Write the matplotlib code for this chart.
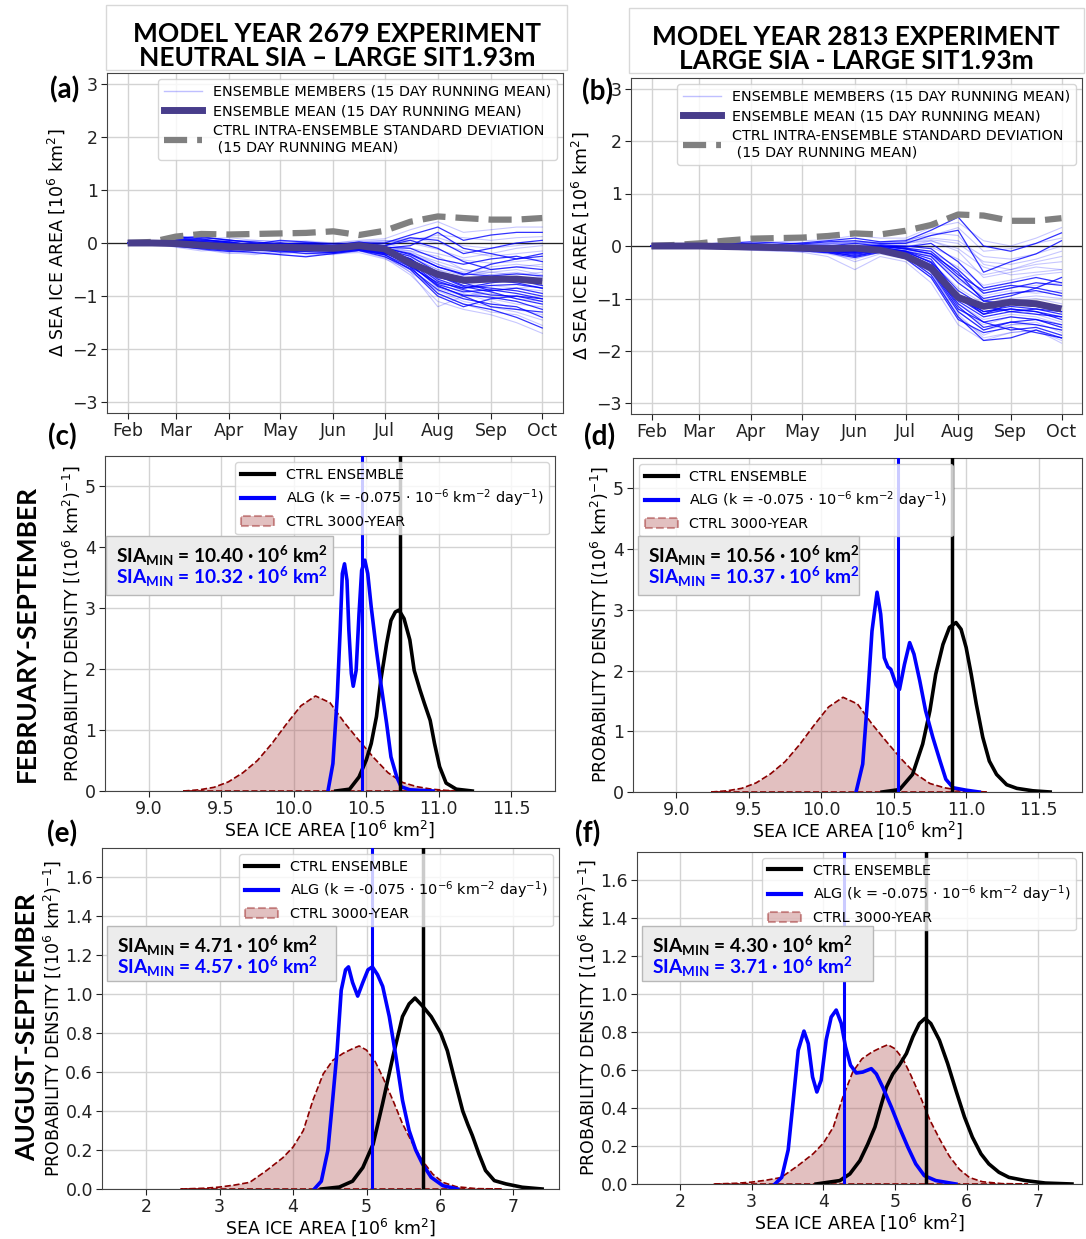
import matplotlib
matplotlib.use("Agg")
import matplotlib.pyplot as plt
from matplotlib.patches import Rectangle
from matplotlib.lines import Line2D

plt.rcParams['font.family'] = ['DejaVu Sans']
plt.rcParams['mathtext.default'] = 'regular'

# ---------------- DATA ----------------
month_labels = ['Feb', 'Mar', 'Apr', 'May', 'Jun', 'Jul', 'Aug', 'Sep', 'Oct']
month_days = [0, 28, 59, 89, 120, 150, 181, 212, 242]
days = [0, 14, 28, 43, 59, 74, 89, 104, 120, 135, 150, 165, 181, 196, 212, 227, 242]

mean_a = [0, 0, -0.01, -0.04, -0.07, -0.08, -0.08, -0.09, -0.1, -0.05, -0.11, -0.38, -0.59, -0.7, -0.68, -0.68, -0.72]
std_a = [0, 0.02, 0.12, 0.17, 0.16, 0.17, 0.18, 0.19, 0.22, 0.15, 0.23, 0.4, 0.5, 0.47, 0.44, 0.44, 0.47]
members_a = [
    [0, 0, 0.08, 0.05, 0.02, -0.05, 0.0, -0.08, -0.1, -0.05, -0.1, -0.2, -0.45, -0.6, -0.4, -0.3, -0.2],
    [0, 0, -0.05, -0.12, -0.2, -0.15, -0.22, -0.25, -0.18, -0.12, -0.25, -0.55, -0.9, -1.1, -1.2, -1.3, -1.45],
    [0, 0, 0.1, 0.12, 0.05, 0.02, -0.02, 0.0, -0.05, 0.02, -0.05, 0.1, 0.05, -0.2, -0.1, 0.0, 0.05],
    [0, 0, -0.02, -0.08, -0.1, -0.15, -0.12, -0.18, -0.2, -0.12, -0.2, -0.4, -0.85, -1.0, -0.95, -1.05, -1.1],
    [0, 0, 0.02, 0.0, -0.05, -0.1, -0.05, -0.02, -0.08, -0.02, -0.12, -0.3, -0.6, -0.8, -0.85, -0.9, -1.0],
    [0, 0, -0.08, -0.15, -0.12, -0.08, -0.18, -0.2, -0.22, -0.15, -0.28, -0.6, -1.1, -1.25, -1.35, -1.5, -1.7],
    [0, 0, 0.05, 0.02, 0.0, -0.02, -0.05, -0.1, -0.15, -0.1, -0.05, 0.05, -0.1, -0.35, -0.5, -0.45, -0.5],
    [0, 0, 0.0, -0.05, -0.08, -0.05, -0.1, -0.15, -0.12, -0.05, -0.15, -0.25, -0.5, -0.7, -0.6, -0.55, -0.65],
    [0, 0, 0.12, 0.08, 0.0, -0.02, 0.05, 0.02, -0.02, 0.0, 0.0, 0.15, 0.3, 0.05, 0.15, 0.2, 0.2],
    [0, 0, -0.03, -0.1, -0.15, -0.2, -0.2, -0.15, -0.12, -0.08, -0.2, -0.35, -0.7, -0.9, -1.05, -1.15, -1.2],
    [0, 0, 0.03, -0.02, -0.02, -0.08, -0.1, -0.05, -0.08, -0.1, -0.15, -0.45, -0.75, -0.85, -0.75, -0.7, -0.8],
    [0, 0, -0.06, -0.1, -0.05, 0.0, -0.08, -0.12, -0.2, -0.18, -0.3, -0.5, -0.95, -1.15, -1.3, -1.35, -1.55],
    [0, 0, 0.06, 0.02, -0.02, -0.05, -0.02, -0.05, -0.1, -0.05, -0.08, -0.1, -0.3, -0.4, -0.3, -0.25, -0.35],
    [0, 0, -0.04, -0.06, -0.12, -0.1, -0.15, -0.1, -0.05, 0.0, -0.1, -0.2, -0.4, -0.55, -0.45, -0.4, -0.45],
    [0, 0, 0.04, 0.06, 0.02, -0.05, -0.08, -0.05, -0.1, -0.12, -0.2, -0.3, -0.65, -0.75, -0.9, -0.85, -0.95],
    [0, 0, -0.02, -0.05, -0.1, -0.12, -0.05, -0.1, -0.15, -0.08, -0.1, -0.15, -0.25, -0.5, -0.55, -0.6, -0.55],
    [0, 0, 0.02, -0.04, -0.08, -0.12, -0.15, -0.2, -0.18, -0.12, -0.22, -0.5, -1.0, -1.2, -1.05, -1.0, -1.05],
    [0, 0, 0.0, 0.02, 0.05, 0.0, -0.04, -0.06, -0.05, 0.0, 0.02, 0.1, 0.0, -0.15, -0.25, -0.2, -0.15],
    [0, 0, 0.08, 0.1, 0.06, 0.0, -0.05, -0.02, -0.05, -0.02, -0.12, -0.25, -0.55, -0.65, -0.7, -0.75, -0.85],
    [0, 0, -0.05, -0.1, -0.08, -0.1, -0.12, -0.08, -0.12, -0.1, -0.18, -0.38, -0.75, -0.95, -1.1, -1.25, -1.35],
    [0, 0, 0.0, -0.03, -0.06, -0.02, 0.0, -0.04, -0.1, -0.06, -0.1, -0.05, 0.2, -0.1, -0.2, -0.3, -0.25],
    [0, 0, -0.07, -0.12, -0.18, -0.22, -0.15, -0.1, -0.08, -0.05, -0.12, -0.3, -0.6, -0.75, -0.8, -0.85, -0.9],
    [0, 0, 0.05, 0.0, -0.05, -0.08, -0.12, -0.1, -0.15, -0.1, -0.18, -0.42, -0.8, -1.0, -1.2, -1.25, -1.3],
    [0, 0, 0.02, 0.04, 0.0, -0.04, -0.02, -0.06, -0.08, -0.05, -0.08, -0.18, -0.35, -0.5, -0.6, -0.65, -0.7],
    [0, 0, -0.03, -0.09, -0.14, -0.18, -0.22, -0.26, -0.2, -0.14, -0.22, -0.45, -0.95, -1.15, -1.25, -1.4, -1.6],
    [0, 0, 0.04, 0.08, 0.1, 0.05, 0.02, 0.04, 0.0, 0.05, 0.08, 0.25, 0.4, 0.2, 0.25, 0.3, 0.3],
    [0, 0, 0.07, 0.03, -0.03, -0.06, -0.1, -0.14, -0.1, -0.04, -0.14, -0.36, -0.78, -0.92, -0.88, -0.95, -1.05],
    [0, 0, 0.01, -0.04, -0.07, -0.1, -0.08, -0.12, -0.14, -0.1, -0.16, -0.28, -0.5, -0.62, -0.5, -0.45, -0.4],
    [0, 0, -0.04, -0.07, -0.11, -0.13, -0.17, -0.15, -0.13, -0.09, -0.17, -0.32, -0.62, -0.82, -0.92, -1.05, -1.15],
    [0, 0, -0.01, 0.01, 0.03, 0.05, 0.03, 0.0, -0.03, 0.02, 0.04, 0.05, 0.15, 0.1, 0.05, 0.1, 0.12],
    [0, 0, 0.0, -0.02, -0.05, -0.07, -0.09, -0.07, -0.09, -0.05, -0.13, -0.3, -0.68, -0.85, -0.8, -0.78, -0.85],
    [0, 0, 0.03, -0.01, -0.04, -0.09, -0.06, -0.1, -0.16, -0.12, -0.24, -0.55, -1.2, -1.0, -0.9, -0.85, -0.8],
    [0, 0, -0.06, -0.11, -0.16, -0.14, -0.12, -0.16, -0.18, -0.14, -0.26, -0.48, -0.88, -1.05, -1.15, -1.2, -1.4],
    [0, 0, 0.05, 0.07, 0.04, 0.01, 0.0, -0.02, -0.04, 0.01, -0.02, -0.1, -0.2, -0.32, -0.38, -0.35, -0.3],
    [0, 0, -0.02, -0.06, -0.09, -0.11, -0.14, -0.11, -0.11, -0.07, -0.14, -0.34, -0.72, -0.88, -0.98, -1.0, -1.1],
    [0, 0, 0.09, 0.06, 0.02, -0.03, -0.06, -0.04, -0.07, -0.03, -0.06, -0.15, -0.4, -0.6, -0.55, -0.5, -0.6],
    [0, 0, 0.01, -0.03, -0.07, -0.08, -0.11, -0.13, -0.16, -0.11, -0.19, -0.4, -0.82, -0.98, -1.02, -1.1, -1.25],
    [0, 0, 0.02, 0.03, 0.01, -0.03, -0.01, 0.01, 0.0, 0.03, 0.05, 0.0, -0.12, -0.28, -0.2, -0.1, -0.05],
    [0, 0, 0.03, 0.0, -0.02, -0.04, -0.03, -0.07, -0.09, -0.04, -0.09, -0.22, -0.45, -0.58, -0.62, -0.58, -0.62],
    [0, 0, -0.01, 0.02, 0.04, 0.02, -0.01, -0.03, -0.06, -0.02, 0.0, 0.08, 0.1, -0.05, -0.1, -0.05, 0.0],
]

mean_b = [0, 0, 0, -0.01, -0.02, -0.03, -0.04, -0.05, -0.04, -0.08, -0.19, -0.42, -0.98, -1.15, -1.07, -1.1, -1.2]
std_b = [0, 0.02, 0.05, 0.1, 0.14, 0.15, 0.16, 0.19, 0.24, 0.22, 0.29, 0.4, 0.6, 0.58, 0.48, 0.48, 0.53]
members_b = [
    [0, 0, 0.02, 0.03, 0.05, 0.02, 0.0, -0.02, -0.05, 0.0, -0.05, -0.15, -0.6, -1.0, -0.9, -0.85, -0.95],
    [0, 0, -0.02, -0.04, -0.06, -0.08, -0.05, -0.1, -0.3, -0.15, -0.25, -0.6, -1.3, -1.75, -1.65, -1.6, -1.8],
    [0, 0, 0.01, 0.05, 0.08, 0.06, 0.04, 0.08, 0.1, 0.05, 0.05, 0.2, 0.3, -0.5, -0.3, -0.15, 0.1],
    [0, 0, -0.01, -0.02, -0.04, -0.06, -0.1, -0.12, -0.2, -0.1, -0.2, -0.5, -1.1, -1.4, -1.3, -1.35, -1.5],
    [0, 0, 0.0, 0.0, -0.02, -0.05, -0.08, -0.05, -0.1, -0.05, -0.1, -0.25, -0.95, -1.25, -1.15, -1.2, -1.3],
    [0, 0, -0.03, -0.06, -0.04, -0.08, -0.12, -0.2, -0.45, -0.2, -0.3, -0.7, -1.5, -1.8, -1.65, -1.6, -1.85],
    [0, 0, 0.02, 0.0, 0.0, -0.02, 0.02, 0.0, 0.05, 0.0, -0.02, 0.05, -0.3, -0.8, -0.7, -0.6, -0.7],
    [0, 0, 0.0, -0.03, -0.05, -0.04, -0.06, -0.08, -0.12, -0.06, -0.15, -0.35, -0.9, -1.2, -1.05, -1.0, -1.1],
    [0, 0, 0.03, 0.06, 0.04, 0.03, 0.06, 0.1, 0.15, 0.08, 0.1, 0.3, 0.55, 0.0, -0.1, 0.05, 0.25],
    [0, 0, -0.02, -0.05, -0.08, -0.1, -0.08, -0.06, -0.15, -0.1, -0.2, -0.45, -1.2, -1.5, -1.35, -1.4, -1.55],
    [0, 0, 0.01, -0.01, -0.03, -0.02, -0.04, -0.08, -0.06, -0.02, -0.1, -0.2, -0.7, -1.05, -1.1, -1.15, -1.15],
    [0, 0, -0.01, -0.03, -0.05, -0.07, -0.1, -0.15, -0.25, -0.12, -0.22, -0.55, -1.25, -1.6, -1.5, -1.45, -1.65],
    [0, 0, 0.02, 0.02, 0.0, 0.0, -0.02, -0.05, -0.02, 0.02, 0.0, -0.05, -0.45, -0.9, -0.8, -0.7, -0.75],
    [0, 0, 0.0, -0.02, -0.03, -0.05, -0.02, -0.04, -0.1, -0.05, -0.1, -0.3, -0.8, -1.1, -1.0, -0.95, -1.0],
    [0, 0, -0.02, -0.02, -0.06, -0.04, -0.08, -0.1, -0.12, -0.08, -0.18, -0.4, -1.0, -1.3, -1.2, -1.25, -1.4],
    [0, 0, 0.01, 0.03, 0.02, 0.0, 0.03, 0.02, 0.0, 0.05, 0.05, 0.1, -0.1, -0.6, -0.5, -0.4, -0.45],
    [0, 0, -0.02, -0.04, -0.02, -0.06, -0.06, -0.1, -0.2, -0.1, -0.15, -0.45, -1.1, -1.45, -1.6, -1.55, -1.7],
    [0, 0, 0.02, 0.04, 0.03, 0.01, 0.0, 0.02, -0.02, 0.02, 0.08, 0.25, 0.2, -0.35, -0.45, -0.3, -0.2],
    [0, 0, 0.0, -0.01, -0.04, -0.06, -0.04, -0.06, -0.08, -0.04, -0.12, -0.3, -0.85, -1.15, -1.25, -1.2, -1.25],
    [0, 0, -0.01, -0.03, -0.01, -0.03, -0.05, -0.04, -0.06, -0.02, -0.08, -0.2, -0.65, -0.95, -0.85, -0.9, -0.85],
    [0, 0, 0.01, 0.0, -0.02, -0.01, 0.01, -0.03, -0.05, 0.0, -0.06, -0.15, -0.5, -1.05, -0.95, -0.8, -0.6],
    [0, 0, -0.02, -0.05, -0.07, -0.09, -0.11, -0.09, -0.14, -0.09, -0.2, -0.5, -1.35, -1.7, -1.5, -1.5, -1.6],
    [0, 0, 0.01, 0.01, 0.02, -0.01, -0.03, 0.0, -0.04, -0.01, -0.04, -0.1, -0.55, -0.85, -0.75, -0.8, -0.9],
    [0, 0, 0.0, -0.02, -0.04, -0.03, -0.06, -0.08, -0.1, -0.06, -0.12, -0.38, -0.95, -1.3, -1.2, -1.3, -1.45],
    [0, 0, -0.01, -0.03, -0.05, -0.06, -0.08, -0.12, -0.18, -0.1, -0.2, -0.55, -1.35, -1.8, -1.75, -1.6, -1.75],
    [0, 0, 0.02, 0.04, 0.06, 0.08, 0.1, 0.12, 0.2, 0.15, 0.15, 0.35, 0.45, 0.1, 0.0, 0.15, 0.35],
    [0, 0, 0.0, -0.02, -0.03, -0.04, -0.05, -0.08, -0.1, -0.05, -0.14, -0.42, -1.15, -1.55, -1.45, -1.5, -1.6],
    [0, 0, 0.01, 0.02, 0.0, -0.02, 0.0, 0.04, 0.08, 0.04, 0.02, -0.02, -0.25, -0.55, -0.45, -0.35, -0.3],
    [0, 0, 0.01, -0.01, -0.02, -0.05, -0.07, -0.1, -0.14, -0.08, -0.16, -0.4, -1.05, -1.35, -1.25, -1.3, -1.35],
    [0, 0, -0.01, 0.0, 0.02, 0.03, 0.01, 0.03, 0.06, 0.02, -0.02, 0.1, -0.05, -0.4, -0.55, -0.5, -0.45],
    [0, 0, -0.02, -0.04, -0.05, -0.07, -0.09, -0.13, -0.22, -0.12, -0.24, -0.6, -1.4, -1.65, -1.55, -1.65, -1.75],
    [0, 0, 0.02, 0.03, 0.01, 0.0, 0.02, 0.05, 0.1, 0.06, 0.08, 0.15, 0.1, -0.2, -0.25, -0.15, 0.0],
    [0, 0, 0.0, -0.01, -0.03, -0.03, -0.03, -0.06, -0.08, -0.03, -0.1, -0.32, -0.95, -1.3, -1.1, -1.15, -1.25],
    [0, 0, 0.0, -0.02, -0.01, 0.01, -0.01, -0.02, 0.02, 0.0, -0.04, -0.12, -0.4, -0.75, -0.65, -0.55, -0.5],
    [0, 0, 0.01, 0.0, -0.01, -0.04, -0.06, -0.09, -0.12, -0.06, -0.16, -0.45, -1.2, -1.45, -1.35, -1.4, -1.5],
    [0, 0, 0.01, 0.02, 0.04, 0.03, 0.05, 0.06, 0.05, 0.08, 0.12, 0.2, 0.35, -0.1, -0.05, 0.05, 0.15],
    [0, 0, -0.01, -0.02, -0.04, -0.05, -0.07, -0.1, -0.16, -0.08, -0.18, -0.48, -1.25, -1.6, -1.45, -1.4, -1.55],
    [0, 0, -0.02, -0.03, -0.02, -0.04, -0.03, -0.05, -0.04, -0.01, -0.06, -0.18, -0.6, -0.9, -0.8, -0.75, -0.7],
    [0, 0, 0.0, -0.02, -0.03, -0.04, -0.06, -0.07, -0.1, -0.05, -0.14, -0.36, -1.0, -1.25, -1.2, -1.25, -1.35],
    [0, 0, 0.01, 0.01, 0.03, 0.02, 0.04, 0.05, 0.07, 0.04, 0.06, 0.12, 0.05, -0.3, -0.35, -0.25, -0.1],
]

# KDE curves, February-September
ctrl3000_fs_x = [9.24, 9.35, 9.45, 9.55, 9.65, 9.75, 9.85, 9.95, 10.05, 10.15, 10.25, 10.35, 10.45, 10.55, 10.65, 10.75, 10.85, 10.95, 11.05, 11.15]
ctrl3000_fs_y = [0.0, 0.02, 0.06, 0.15, 0.3, 0.5, 0.78, 1.1, 1.4, 1.56, 1.45, 1.12, 0.83, 0.55, 0.3, 0.14, 0.07, 0.03, 0.01, 0.0]
ctrl_c_x = [10.29, 10.385, 10.45, 10.50, 10.534, 10.57, 10.60, 10.64, 10.67, 10.70, 10.725, 10.76, 10.80, 10.83, 10.87, 10.90, 10.94, 10.97, 11.005, 11.05, 11.12, 11.23]
ctrl_c_y = [0.0, 0.03, 0.23, 0.51, 0.78, 1.22, 1.82, 2.42, 2.80, 2.94, 2.97, 2.83, 2.48, 1.98, 1.66, 1.44, 1.16, 0.78, 0.40, 0.13, 0.03, 0.0]
alg_c_x = [10.236, 10.27, 10.30, 10.32, 10.335, 10.35, 10.367, 10.38, 10.397, 10.41, 10.43, 10.45, 10.468, 10.49, 10.51, 10.534, 10.57, 10.60, 10.64, 10.67, 10.71, 10.74, 10.80, 10.96]
alg_c_y = [0.0, 0.45, 1.55, 2.64, 3.57, 3.73, 3.46, 2.64, 1.93, 1.72, 1.98, 2.91, 3.62, 3.79, 3.57, 3.02, 2.31, 1.77, 1.11, 0.56, 0.23, 0.07, 0.02, 0.0]
ctrl_d_x = [10.42, 10.54, 10.63, 10.70, 10.75, 10.79, 10.84, 10.885, 10.93, 10.965, 11.0, 11.035, 11.07, 11.115, 11.16, 11.21, 11.28, 11.35, 11.46, 11.58]
ctrl_d_y = [0.0, 0.04, 0.29, 0.79, 1.34, 1.94, 2.43, 2.71, 2.79, 2.68, 2.38, 1.94, 1.45, 0.90, 0.51, 0.29, 0.12, 0.06, 0.02, 0.0]
alg_d_x = [10.24, 10.286, 10.32, 10.35, 10.385, 10.41, 10.435, 10.46, 10.48, 10.516, 10.54, 10.574, 10.61, 10.64, 10.68, 10.72, 10.77, 10.82, 10.86, 10.91, 11.0, 11.09]
alg_d_y = [0.0, 0.46, 1.55, 2.65, 3.29, 2.93, 2.21, 2.06, 2.02, 1.77, 1.69, 2.10, 2.46, 2.27, 1.83, 1.34, 0.90, 0.51, 0.21, 0.07, 0.03, 0.0]

# KDE curves, August-September
ctrl3000_as_x = [2.47, 2.8, 3.0, 3.2, 3.41, 3.64, 3.86, 4.0, 4.14, 4.27, 4.41, 4.54, 4.68, 4.81, 4.9, 5.0, 5.11, 5.22, 5.36, 5.49, 5.63, 5.76, 5.9, 6.04, 6.22, 6.49, 6.85]
ctrl3000_as_y = [0.0, 0.004, 0.01, 0.02, 0.034, 0.095, 0.16, 0.215, 0.30, 0.455, 0.59, 0.66, 0.696, 0.72, 0.734, 0.713, 0.66, 0.575, 0.455, 0.335, 0.232, 0.146, 0.077, 0.034, 0.012, 0.002, 0.0]
ctrl_e_x = [4.385, 4.63, 4.81, 4.95, 5.09, 5.22, 5.36, 5.49, 5.58, 5.66, 5.76, 5.88, 6.01, 6.10, 6.19, 6.31, 6.38, 6.44, 6.53, 6.62, 6.74, 6.90, 7.12, 7.39]
ctrl_e_y = [0.0, 0.01, 0.04, 0.11, 0.23, 0.44, 0.68, 0.885, 0.95, 0.98, 0.94, 0.885, 0.80, 0.71, 0.575, 0.40, 0.33, 0.275, 0.18, 0.095, 0.043, 0.026, 0.009, 0.0]
alg_e_x = [4.29, 4.385, 4.475, 4.54, 4.60, 4.656, 4.715, 4.755, 4.81, 4.88, 4.95, 5.02, 5.08, 5.15, 5.22, 5.31, 5.40, 5.49, 5.58, 5.67, 5.76, 5.88, 6.04, 6.24]
alg_e_y = [0.0, 0.04, 0.2, 0.46, 0.71, 1.02, 1.125, 1.14, 1.06, 0.99, 1.06, 1.125, 1.14, 1.10, 1.04, 0.885, 0.68, 0.455, 0.30, 0.20, 0.13, 0.06, 0.017, 0.0]
ctrl_f_x = [3.90, 4.23, 4.37, 4.51, 4.62, 4.72, 4.81, 4.88, 4.97, 5.06, 5.16, 5.25, 5.34, 5.42, 5.50, 5.62, 5.735, 5.85, 5.97, 6.08, 6.20, 6.31, 6.45, 6.59, 6.82, 7.10, 7.47]
ctrl_f_y = [0.0, 0.018, 0.053, 0.123, 0.21, 0.30, 0.42, 0.51, 0.58, 0.626, 0.688, 0.776, 0.846, 0.873, 0.846, 0.758, 0.635, 0.494, 0.353, 0.247, 0.159, 0.106, 0.062, 0.035, 0.018, 0.005, 0.0]
alg_f_x = [3.325, 3.42, 3.51, 3.58, 3.65, 3.73, 3.79, 3.85, 3.91, 3.97, 4.04, 4.11, 4.18, 4.25, 4.31, 4.38, 4.46, 4.55, 4.67, 4.74, 4.83, 4.95, 5.06, 5.18, 5.29, 5.41, 5.57, 5.85]
alg_f_y = [0.0, 0.035, 0.18, 0.44, 0.705, 0.806, 0.74, 0.564, 0.485, 0.547, 0.76, 0.88, 0.917, 0.847, 0.723, 0.626, 0.585, 0.59, 0.608, 0.58, 0.51, 0.405, 0.30, 0.194, 0.106, 0.044, 0.018, 0.0]

# vertical reference lines (blue: ALG, black: CTRL)
vlines = {'c': (10.47, 10.735), 'd': (10.53, 10.90), 'e': (5.075, 5.765), 'f': (4.29, 5.43)}
sia_text = {'c': ('10.40', '10.32'), 'd': ('10.56', '10.37'), 'e': ('4.71', '4.57'), 'f': ('4.30', '3.71')}

titles_left = ['MODEL YEAR 2679 EXPERIMENT', 'NEUTRAL SIA \u2013 LARGE SIT1.93m']
titles_right = ['MODEL YEAR 2813 EXPERIMENT', 'LARGE SIA - LARGE SIT1.93m']

# ---------------- FIGURE ----------------
W, H = 1086, 1239
fig = plt.figure(figsize=(W / 100, H / 100), dpi=100)
TF = 'Lato'


def fx(x):
    return x / W


def fy(y):
    return 1 - y / H


def ax_at(x0, y0, x1, y1):
    return fig.add_axes([x0 / W, 1 - y1 / H, (x1 - x0) / W, (y1 - y0) / H])


def style(ax):
    ax.grid(True, color='#d3d3d3', lw=1.0)
    ax.set_axisbelow(True)
    for s in ax.spines.values():
        s.set_color('#444444')
    ax.tick_params(labelsize=12.5, colors='#222222', length=4, pad=2.5)


def gray_box(x0, y0, x1, y1):
    fig.add_artist(Rectangle((fx(x0), fy(y1)), (x1 - x0) / W, (y1 - y0) / H,
                             transform=fig.transFigure, fill=False,
                             edgecolor='#d8d8d8', lw=1.0))


# title boxes
gray_box(106, 5, 567, 70)
gray_box(629, 8, 1084, 73)
fig.text(fx(337), fy(34), titles_left[0], ha='center', va='center', family=TF, weight='bold', fontsize=19)
fig.text(fx(337), fy(58), titles_left[1], ha='center', va='center', family=TF, weight='bold', fontsize=19)
fig.text(fx(856), fy(37), titles_right[0], ha='center', va='center', family=TF, weight='bold', fontsize=19)
fig.text(fx(856), fy(61), titles_right[1], ha='center', va='center', family=TF, weight='bold', fontsize=19)

# row labels
fig.text(fx(27), fy(633), 'FEBRUARY-SEPTEMBER', rotation=90, ha='center', va='center', family=TF, weight='bold', fontsize=19)
fig.text(fx(27), fy(1027), 'AUGUST-SEPTEMBER', rotation=90, ha='center', va='center', family=TF, weight='bold', fontsize=19)


def ts_panel(ax, members, mean, std):
    style(ax)
    for i, m in enumerate(members):
        if i % 2 == 0:
            ax.plot(days, m, color='#0000ff', lw=0.9, alpha=0.8, zorder=2)
        else:
            ax.plot(days, m, color='#0000ff', lw=0.8, alpha=0.22, zorder=2)
    ax.axhline(0, color='#222222', lw=0.9, zorder=1.5)
    ax.plot(days, std, color='#808080', lw=4.5, ls='--', zorder=3)
    ax.plot(days, mean, color='#483d8b', lw=5, zorder=4, solid_capstyle='butt')
    ax.set_ylim(-3.2, 3.2)
    ax.set_yticks([-3, -2, -1, 0, 1, 2, 3])
    ax.set_xticks(month_days)
    ax.set_xticklabels(month_labels)
    ax.set_ylabel('\u0394 SEA ICE AREA [10$^{6}$ km$^{2}$]', fontsize=12.5)
    handles = [Line2D([], [], color='#0000ff', lw=1, alpha=0.25),
               Line2D([], [], color='#483d8b', lw=5),
               Line2D([], [], color='#808080', lw=4.5, ls='--')]
    labels = ['ENSEMBLE MEMBERS (15 DAY RUNNING MEAN)', 'ENSEMBLE MEAN (15 DAY RUNNING MEAN)',
              'CTRL INTRA-ENSEMBLE STANDARD DEVIATION\n (15 DAY RUNNING MEAN)']
    ax.legend(handles, labels, loc='upper right', fontsize=10.4, handlelength=2.6, labelspacing=0.4,
              borderaxespad=0.4)


ax_a = ax_at(107, 73, 563, 413)
ts_panel(ax_a, members_a, mean_a, std_a)
ax_b = ax_at(631, 78, 1082, 414)
ts_panel(ax_b, members_b, mean_b, std_b)


def kde_panel(ax, c3x, c3y, cx, cy, bx, by, key, xlim, ylim, xticks, yticks, fmt, loc, box):
    style(ax)
    ax.fill(c3x, c3y, facecolor='#b35a5a', alpha=0.38, edgecolor='none', zorder=2)
    ax.plot(c3x + [c3x[0]], c3y + [c3y[0]], color='#8b0000', lw=1.2, ls='--', zorder=2.5)
    ax.plot(cx, cy, color='black', lw=2.6, zorder=3, solid_joinstyle='round')
    ax.plot(bx, by, color='#0000ff', lw=2.6, zorder=3, solid_joinstyle='round')
    vb, vk = vlines[key]
    ax.axvline(vb, color='#0000ff', lw=2.2, zorder=3)
    ax.axvline(vk, color='black', lw=2.5, zorder=3)
    ax.set_xlim(*xlim)
    ax.set_ylim(*ylim)
    ax.set_xticks(xticks)
    ax.set_yticks(yticks)
    ax.set_xticklabels([fmt[0].format(v) for v in xticks])
    ax.set_yticklabels([fmt[1].format(v) for v in yticks])
    ax.set_xlabel('SEA ICE AREA [10$^{6}$ km$^{2}$]', fontsize=12.5, labelpad=0)
    ax.set_ylabel('PROBABILITY DENSITY [(10$^{6}$ km$^{2}$)$^{-1}$]', fontsize=12.5, labelpad=2)
    leg_patch = Rectangle((0, 0), 1, 1, facecolor='#b35a5a', alpha=0.38, edgecolor='#8b0000', ls='--', lw=1.5)
    handles = [Line2D([], [], color='black', lw=3), Line2D([], [], color='#0000ff', lw=3), leg_patch]
    labels = ['CTRL ENSEMBLE', 'ALG (k = -0.075 $\\cdot$ 10$^{-6}$ km$^{-2}$ day$^{-1}$)', 'CTRL 3000-YEAR']
    ax.legend(handles, labels, loc=loc, fontsize=10.4, handlelength=2.3, labelspacing=0.4, borderaxespad=0.4)
    x0, y0, x1, y1 = box
    fig.add_artist(Rectangle((fx(x0), fy(y1)), (x1 - x0) / W, (y1 - y0) / H, transform=fig.transFigure,
                             facecolor='#ececec', edgecolor='#b8b8b8', lw=1.0, zorder=5))
    t1, t2 = sia_text[key]
    fig.text(fx(x0 + 10), fy(y0 + 20), 'SIA$_{MIN}$ = ' + t1 + ' \u00b7 10$^{6}$ km$^{2}$', family=TF,
             weight='bold', fontsize=13.8, color='black', va='center', ha='left', zorder=6)
    fig.text(fx(x0 + 10), fy(y0 + 41), 'SIA$_{MIN}$ = ' + t2 + ' \u00b7 10$^{6}$ km$^{2}$', family=TF,
             weight='bold', fontsize=13.8, color='#0000ff', va='center', ha='left', zorder=6)


fs_xt = [9.0, 9.5, 10.0, 10.5, 11.0, 11.5]
fs_yt = [0, 1, 2, 3, 4, 5]
as_xt = [2, 3, 4, 5, 6, 7]
as_yt = [0.0, 0.2, 0.4, 0.6, 0.8, 1.0, 1.2, 1.4, 1.6]

ax_c = ax_at(105, 456, 555, 791)
kde_panel(ax_c, ctrl3000_fs_x, ctrl3000_fs_y, ctrl_c_x, ctrl_c_y, alg_c_x, alg_c_y, 'c',
          (8.7, 11.8), (0, 5.5), fs_xt, fs_yt, ('{:.1f}', '{:d}'), 'upper right', (106, 536, 333, 595))
ax_d = ax_at(633, 458, 1082, 792)
kde_panel(ax_d, ctrl3000_fs_x, ctrl3000_fs_y, ctrl_d_x, ctrl_d_y, alg_d_x, alg_d_y, 'd',
          (8.7, 11.8), (0, 5.5), fs_xt, fs_yt, ('{:.1f}', '{:d}'), 'upper left', (638, 536, 859, 595))
ax_e = ax_at(102, 848, 559, 1189)
kde_panel(ax_e, ctrl3000_as_x, ctrl3000_as_y, ctrl_e_x, ctrl_e_y, alg_e_x, alg_e_y, 'e',
          (1.4, 7.62), (0, 1.75), as_xt, as_yt, ('{:d}', '{:.1f}'), 'upper right', (107, 926, 336, 981))
ax_f = ax_at(637, 852, 1082, 1184)
kde_panel(ax_f, ctrl3000_as_x, ctrl3000_as_y, ctrl_f_x, ctrl_f_y, alg_f_x, alg_f_y, 'f',
          (1.4, 7.61), (0, 1.75), as_xt, as_yt, ('{:d}', '{:.1f}'), 'upper right', (642, 926, 873, 981))

# panel letters
for lab, (x, y) in {'(a)': (65, 90), '(b)': (598, 92), '(c)': (62, 437), '(d)': (600, 437),
                    '(e)': (62, 834), '(f)': (588, 834)}.items():
    fig.text(fx(x), fy(y), lab, ha='center', va='center', family=TF, weight='bold', fontsize=20, zorder=7)

fig.savefig('out.png', dpi=100)
